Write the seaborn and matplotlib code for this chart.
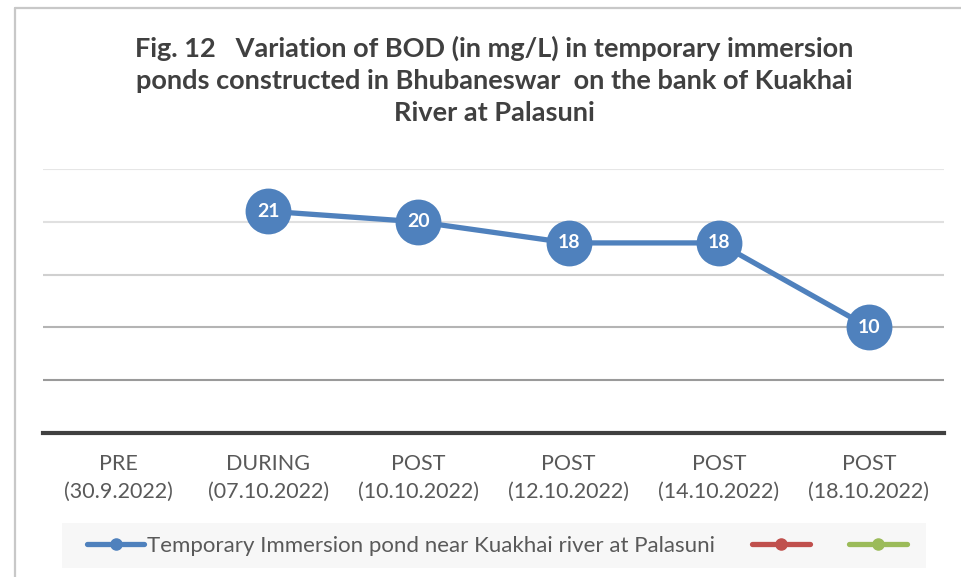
import numpy as np
import pandas as pd
import matplotlib
matplotlib.use("Agg")
import matplotlib.pyplot as plt
import seaborn as sns
from matplotlib.lines import Line2D
from matplotlib.patches import Rectangle

# Chart data
stages = ["PRE", "DURING", "POST", "POST", "POST", "POST"]
dates = ["30.9.2022", "07.10.2022", "10.10.2022", "12.10.2022", "14.10.2022", "18.10.2022"]
bod = [np.nan, 21, 20, 18, 18, 10]
series_name = "Temporary Immersion pond near Kuakhai river at Palasuni"
y_ticks = [0, 5, 10, 15, 20, 25]

title = ("Fig. 12   Variation of BOD (in mg/L) in temporary immersion\n"
         "ponds constructed in Bhubaneswar  on the bank of Kuakhai\n"
         "River at Palasuni")

BLUE = "#4f81bd"
RED = "#c0504d"
GREEN = "#9bbb59"

sns.set_theme(style="white")
plt.rcParams["font.family"] = ["Lato", "DejaVu Sans"]

df = pd.DataFrame({
    "pos": np.arange(len(stages)),
    "label": [f"{s}\n({d})" for s, d in zip(stages, dates)],
    "bod": bod,
})

W, H = 961, 577
fig = plt.figure(figsize=(W / 100, H / 100), dpi=100)
ax = fig.add_axes([43 / W, 1 - 433 / H, (944 - 43) / W, (433 - 169) / H])

sns.lineplot(data=df.dropna(), x="pos", y="bod", ax=ax, color=BLUE, lw=3.8,
             marker="o", markersize=33, markeredgewidth=0, sort=False,
             legend=False, zorder=3)

# value labels inside markers
for x, v in zip(df["pos"], df["bod"]):
    if not np.isnan(v):
        ax.text(x, v, f"{v:g}", ha="center", va="center", color="white",
                fontsize=14, fontweight="bold", zorder=4)

ax.set_xlim(-0.5, len(stages) - 0.5)
ax.set_ylim(y_ticks[0], y_ticks[-1])
ax.set_xticks(df["pos"])
ax.set_xticklabels(df["label"], fontsize=15.5, color="#595959", linespacing=1.5)
ax.set_yticks(y_ticks)
ax.set_yticklabels([])
ax.tick_params(axis="both", length=0)
ax.tick_params(axis="x", pad=15)
ax.set_xlabel("")
ax.set_ylabel("")

ax.yaxis.grid(True, lw=1.5)
grid_colors = ["#404040", "#9a9a9a", "#b4b4b4", "#d0d0d0", "#e0e0e0", "#e6e6e6"]
for gl, c in zip(ax.get_ygridlines(), grid_colors):
    gl.set_color(c)

for side in ["top", "left", "right"]:
    ax.spines[side].set_visible(False)
ax.spines["bottom"].set_color("#404040")
ax.spines["bottom"].set_linewidth(3)

# chart area border (left and top)
fig.add_artist(Line2D([14.5 / W, 14.5 / W], [0, 1 - 7.5 / H], color="#c8c8c8", lw=1.6))
fig.add_artist(Line2D([14.5 / W, 1], [1 - 7.5 / H, 1 - 7.5 / H], color="#c8c8c8", lw=1.6))

fig.text(494 / W, 1 - 36 / H, title, ha="center", va="top", fontsize=19.5,
         fontweight="bold", color="#404040", linespacing=1.4)

# legend
fig.add_artist(Rectangle((62 / W, 1 - 568 / H), (926 - 62) / W, 45 / H,
                         transform=fig.transFigure, facecolor="#f7f7f7",
                         edgecolor="none", zorder=0))
handles = [Line2D([], [], color=c, lw=3.8, marker="o", markersize=8)
           for c in [BLUE, RED, GREEN]]
fig.legend(handles, [series_name, "", ""], loc="center",
           bbox_to_anchor=(498 / W, 1 - 545.5 / H), ncol=3, frameon=False,
           fontsize=16, handlelength=2.6, handletextpad=0.12, columnspacing=1.65,
           labelcolor="#595959")

fig.savefig("out.png", dpi=100)
